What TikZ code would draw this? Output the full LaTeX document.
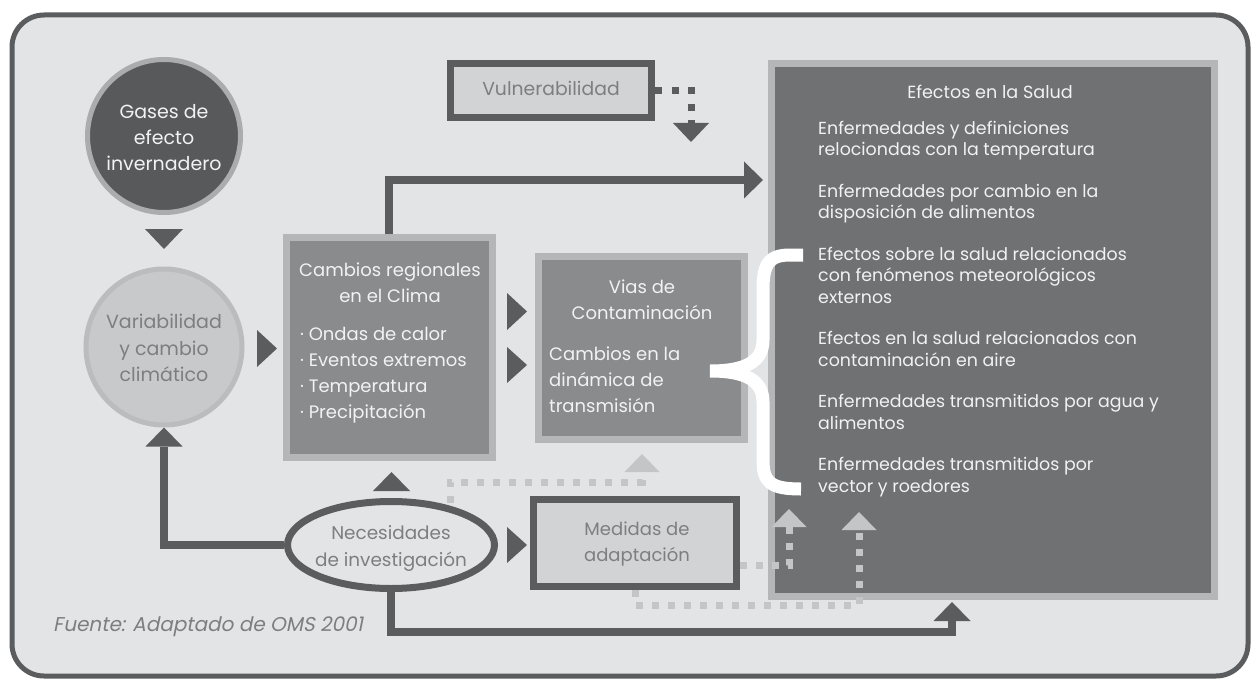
\documentclass[tikz,border=0pt]{standalone}
\usepackage{fontspec}
\setmainfont{Poppins}[AutoFakeSlant=0.2]
\usetikzlibrary{arrows.meta,shapes.geometric}
\definecolor{bggray}{HTML}{E3E4E6}
\definecolor{edgegray}{HTML}{5B5C5E}
\definecolor{discdark}{HTML}{58595B}
\definecolor{ringgray}{HTML}{ABACAE}
\definecolor{disclight}{HTML}{C8C9CB}
\definecolor{ringlight}{HTML}{BBBCBE}
\definecolor{rimgray}{HTML}{B5B6B8}
\definecolor{boxgray}{HTML}{8A8B8D}
\definecolor{panelgray}{HTML}{707173}
\definecolor{palebox}{HTML}{D2D3D5}
\definecolor{txtgray}{HTML}{7D7E80}
\definecolor{dotgray}{HTML}{C4C5C7}
\definecolor{txtwhite}{HTML}{F2F2F2}

\begin{document}
\begin{tikzpicture}[x=1pt,y=-1pt,
  every node/.style={inner sep=0pt},
  frame/.style={draw=edgegray,line width=5pt,fill=bggray,rounded corners=32pt},
  darkdisc/.style={circle,draw=ringgray,line width=5pt,fill=discdark,minimum size=153pt},
  lightdisc/.style={circle,draw=ringlight,line width=5pt,fill=disclight,minimum size=156pt},
  greybox/.style={rectangle,draw=rimgray,line width=7pt,fill=boxgray},
  panelbox/.style={rectangle,draw=rimgray,line width=7pt,fill=panelgray},
  framebox/.style={rectangle,draw=edgegray,line width=7pt,fill=palebox},
  oval/.style={ellipse,draw=edgegray,line width=7pt,fill=bggray},
  whitetxt/.style={text=txtwhite,align=center,font=\fontsize{18}{26}\selectfont},
  graytxt/.style={text=txtgray,align=center,font=\fontsize{18}{26}\selectfont},
  listtxt/.style={text=txtwhite,align=left,font=\fontsize{17.4}{21.5}\selectfont},
  conn/.style={draw=edgegray,line width=8pt,-{Triangle[width=37pt,length=19pt,line width=0pt]}},
  darkdots/.style={draw=edgegray,line width=7pt,dash pattern=on 7pt off 9.5pt},
  lightdots/.style={draw=dotgray,line width=7pt,dash pattern=on 7pt off 9pt},
  darktri/.style={fill=edgegray},
  lighttri/.style={fill=dotgray}
]
\useasboundingbox (0,0) rectangle (1252,679);
\fill[white] (0,0) rectangle (1252,679);
\draw[frame] (12,15) rectangle (1248,676);

% circles on the left
\node[darkdisc] (gases) at (164,136) {};
\node[whitetxt,font=\fontsize{19}{26}\selectfont] (gasestxt) at (164,138) {Gases de\\efecto\\invernadero};
\node[lightdisc] (clima) at (164,347) {};
\node[graytxt,font=\fontsize{19}{26.5}\selectfont] (climatxt) at (164,348) {Variabilidad\\y cambio\\climático};

% boxes
\node[greybox,minimum width=206pt,minimum height=220pt] (regional) at (389,347.5) {};
\node[whitetxt] (regtitle) at (390,283) {Cambios regionales\\en el Clima};
\node[whitetxt,align=left,anchor=west] (reglist) at (300,375) {· Ondas de calor\\· Eventos extremos\\· Temperatura\\· Precipitación};

\node[greybox,minimum width=206pt,minimum height=183pt] (vias) at (641.5,348) {};
\node[whitetxt] (viastitle) at (642,300) {Vias de\\Contaminación};
\node[whitetxt,align=left,anchor=west] (viastxt) at (549,380) {Cambios en la\\dinámica de\\transmisión};

\node[framebox,minimum width=201pt,minimum height=54pt] (vulner) at (551,90.5) {};
\node[graytxt,font=\fontsize{18.8}{26}\selectfont] (vulnertxt) at (551,88) {Vulnerabilidad};

\node[framebox,minimum width=203pt,minimum height=87pt] (medidas) at (635,543) {};
\node[graytxt] (medidastxt) at (637,544) {Medidas de\\adaptación};

\node[oval,minimum width=207pt,minimum height=87pt] (necesidad) at (391,545) {};
\node[graytxt,font=\fontsize{18.4}{27}\selectfont] (necesidadtxt) at (391,548) {Necesidades\\de investigación};

\node[panelbox,minimum width=443pt,minimum height=533pt] (salud) at (993,330) {};
\node[whitetxt,font=\fontsize{17.6}{21.5}\selectfont] (saludtitle) at (990,92) {Efectos en la Salud};
\node[listtxt,anchor=west] (saludlist) at (818,309) {Enfermedades y definiciones\\relociondas con la temperatura\\[20pt]
Enfermedades por cambio en la\\disposición de alimentos\\[20pt]
Efectos sobre la salud relacionados\\con fenómenos meteorológicos\\externos\\[20pt]
Efectos en la salud relacionados con\\contaminación en aire\\[20pt]
Enfermedades transmitidos por agua y\\alimentos\\[20pt]
Enfermedades transmitidos por\\vector y roedores};

\node[anchor=west,text=txtgray,font=\fontsize{20}{24}\selectfont\itshape] (fuente) at (53,627) {Fuente: Adaptado de OMS 2001};

% white brace
\draw[white,line width=13pt,line cap=butt] (803,255) -- (790,255) .. controls (768,255) and (763,265) .. (763,290)
  -- (763,340) .. controls (763,362) and (745,371) .. (710,371)
  .. controls (745,371) and (763,380) .. (763,402) -- (763,460)
  .. controls (763,482) and (770,489) .. (801,489);

% free triangles
\fill[darktri] (145,229) -- (183,229) -- (164,249) -- cycle;
\fill[darktri] (257,330) -- (257,367) -- (277,348.5) -- cycle;
\fill[darktri] (507,293) -- (507,330) -- (527,311.5) -- cycle;
\fill[darktri] (507,347) -- (507,383) -- (527,365) -- cycle;
\fill[darktri] (373,491) -- (410,491) -- (391.5,472) -- cycle;
\fill[darktri] (507,527) -- (507,563) -- (527,545) -- cycle;

% connectors
\coordinate (medout) at (740,565);
\draw[conn] (regional.north) |- (763,180);
\draw[conn] (necesidad.west) -| (clima.south);
\draw[conn] (necesidad.south) -- ++(0,40) -| (952,602);
\draw[darkdots,-{Triangle[width=36pt,length=19pt,line width=0pt,sep=4pt]}] (vulner.east) -| (691,146);
\draw[lightdots,-{Triangle[width=35pt,length=18pt,line width=0pt,sep=4pt]}] (450,503) |- (642,482) -- (642,450);
\draw[lightdots,-{Triangle[width=35pt,length=18pt,line width=0pt,sep=4pt]}] (medidas.south) |- (859,605) -- (859,508);
\draw[lightdots,-{Triangle[width=35pt,length=18pt,line width=0pt,sep=4pt]}] (medout) -| (789,505);
\end{tikzpicture}
\end{document}
